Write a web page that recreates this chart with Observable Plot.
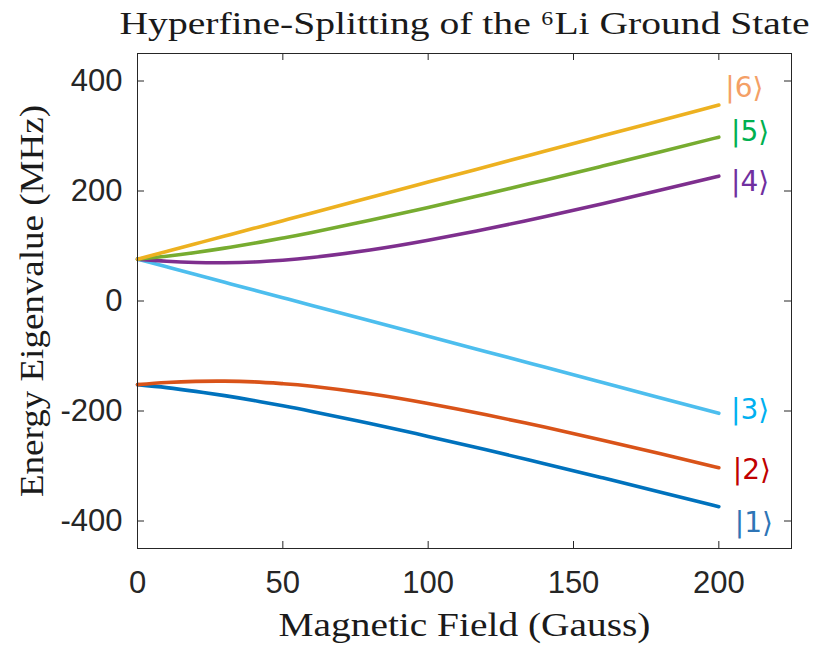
<!DOCTYPE html>
<html>
<head>
<meta charset="utf-8">
<script src="https://cdn.jsdelivr.net/npm/d3@7"></script>
<script src="https://cdn.jsdelivr.net/npm/@observablehq/plot@0.6"></script>
<style>
  html, body { margin: 0; padding: 0; background: #fff; }
</style>
</head>
<body>
<div id="chart"></div>
<script>
// Magnetic field (Gauss) sample points
const fieldB = [0, 10, 20, 30, 40, 50, 60, 80, 100, 120, 140, 160, 180, 200];
// Energy eigenvalues (MHz) for the six hyperfine states
const state1 = [-152.1, -157.5, -164.3, -172.1, -180.9, -190.5, -200.8, -222.7, -246.2, -270.6, -295.8, -321.5, -347.6, -373.9];
const state2 = [-152.1, -148.3, -146.1, -145.7, -147.1, -150.3, -155.0, -168.6, -186.3, -206.9, -229.3, -253.0, -277.7, -303.1];
const state3 = [76.1, 62.1, 48.0, 34.0, 20.0, 6.0, -8.0, -36.0, -64.1, -92.1, -120.1, -148.1, -176.2, -204.2];
const state4 = [76.1, 72.2, 70.0, 69.6, 71.0, 74.2, 79.0, 92.6, 110.3, 130.8, 153.2, 177.0, 201.7, 227.0];
const state5 = [76.1, 81.5, 88.2, 96.1, 104.9, 114.5, 124.7, 146.7, 170.1, 194.5, 219.7, 245.4, 271.5, 297.9];
const state6 = [76.1, 90.1, 104.1, 118.1, 132.1, 146.1, 160.2, 188.2, 216.2, 244.2, 272.3, 300.3, 328.3, 356.3];

const stateNames = ["|1⟩", "|2⟩", "|3⟩", "|4⟩", "|5⟩", "|6⟩"];
const lineColors = ["#0072BD", "#D95319", "#4DBEEE", "#7E2F8E", "#77AC30", "#EDB120"];
const labelColors = ["#2E75B6", "#C00000", "#00B0F0", "#7030A0", "#00B050", "#F4A066"];
const labelX = [205.5, 204.8, 204.2, 204.2, 204.2, 202.2];
const labelY = [-403, -308, -198, 217, 308, 388];

const xTicks = [0, 50, 100, 150, 200];
const yTicks = [-400, -200, 0, 200, 400];

const titleText = "Hyperfine-Splitting of the ⁶Li Ground State";
const xLabel = "Magnetic Field (Gauss)";
const yLabel = "Energy Eigenvalue (MHz)";

const series = [state1, state2, state3, state4, state5, state6];
const rows = [];
series.forEach((vals, i) => {
  vals.forEach((v, j) => rows.push({ B: fieldB[j], E: v, state: stateNames[i] }));
});
const labels = stateNames.map((s, i) => ({ s, x: labelX[i], y: labelY[i], c: labelColors[i] }));

const W = 814, H = 647;
const mL = 137, mR = 23, mT = 53, mB = 99;
const frameH = H - mT - mB, frameW = W - mL - mR;
const tickLen = 7;
const axisColor = "#262626";
const serif = "'Liberation Serif', 'DejaVu Serif', serif";

const plot = Plot.plot({
  width: W,
  height: H,
  marginLeft: mL,
  marginRight: mR,
  marginTop: mT,
  marginBottom: mB,
  style: { background: "#fff", fontFamily: "'Liberation Sans', Arial, sans-serif", overflow: "visible" },
  x: { domain: [0, 225] },
  y: { domain: [-450, 450] },
  color: { domain: stateNames, range: lineColors },
  marks: [
    Plot.line(rows, { x: "B", y: "E", z: "state", stroke: "state", strokeWidth: 3.6, curve: "natural" }),
    Plot.frame({ stroke: axisColor, strokeWidth: 1 }),
    Plot.tickX(xTicks, { x: d => d, stroke: axisColor, insetTop: frameH - tickLen }),
    Plot.tickX(xTicks, { x: d => d, stroke: axisColor, insetBottom: frameH - tickLen }),
    Plot.tickY(yTicks, { y: d => d, stroke: axisColor, insetRight: frameW - tickLen }),
    Plot.tickY(yTicks, { y: d => d, stroke: axisColor, insetLeft: frameW - tickLen }),
    Plot.axisX(xTicks, { tickSize: 0, tickPadding: 22, fontSize: 31, fill: axisColor, label: null, tickFormat: d => String(d) }),
    Plot.axisY(yTicks, { tickSize: 0, tickPadding: 15, fontSize: 31, fill: axisColor, label: null, tickFormat: d => String(d) }),
    Plot.text(labels, { x: "x", y: "y", text: "s", fill: "c", textAnchor: "start", fontSize: 28, fontFamily: "'DejaVu Sans', sans-serif" }),
    Plot.text([titleText], { text: d => d, frameAnchor: "top", textAnchor: "middle", lineAnchor: "bottom", dy: -20, fontSize: 32, fontFamily: serif, fill: "#1a1a1a" }),
    Plot.text([xLabel], { text: d => d, frameAnchor: "bottom", textAnchor: "middle", lineAnchor: "bottom", dy: 87, fontSize: 33, fontFamily: serif, fill: "#1a1a1a" }),
    Plot.text([yLabel], { text: d => d, frameAnchor: "left", textAnchor: "middle", lineAnchor: "bottom", rotate: -90, dx: -95, fontSize: 33, fontFamily: serif, fill: "#1a1a1a" })
  ]
});

document.getElementById("chart").appendChild(plot);

// Stretch serif texts to match the reference widths
const targetLengths = new Map([[titleText, 690], [xLabel, 372], [yLabel, 392]]);
d3.select(plot).selectAll("text").each(function () {
  const t = this.textContent;
  if (targetLengths.has(t)) {
    this.setAttribute("textLength", targetLengths.get(t));
    this.setAttribute("lengthAdjust", "spacingAndGlyphs");
  }
});
</script>
</body>
</html>
